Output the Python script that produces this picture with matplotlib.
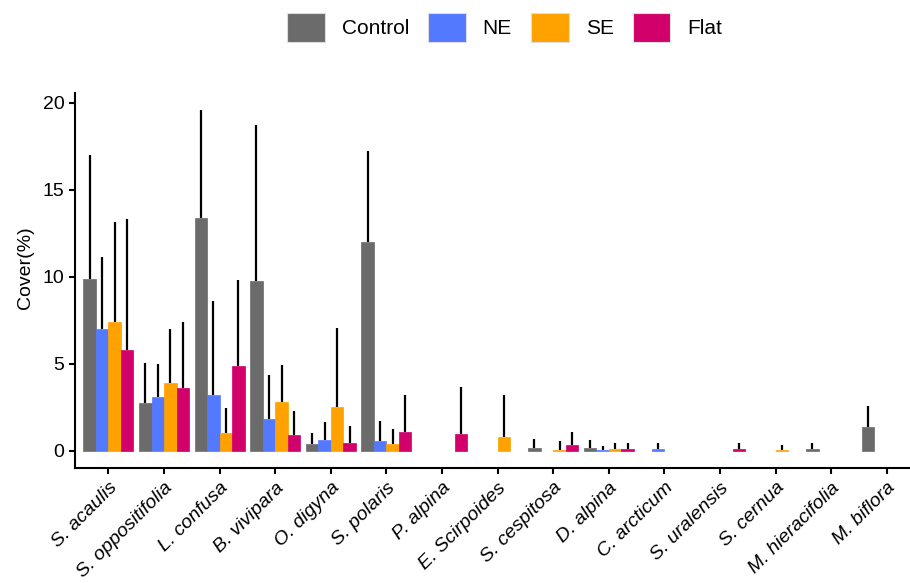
import numpy as np
import matplotlib
matplotlib.use('Agg')
import matplotlib.pyplot as plt
from matplotlib.patches import Patch

plt.rcParams['font.family'] = ['Liberation Sans', 'DejaVu Sans']

nan = np.nan

species = ['S. acaulis', 'S. oppositifolia', 'L. confusa', 'B. vivipara',
           'O. digyna', 'S. polaris', 'P. alpina', 'E. Scirpoides',
           'S. cespitosa', 'D. alpina', 'C. arcticum', 'S. uralensis',
           'S. cernua', 'M. hieracifolia', 'M. biflora']

groups = ['Control', 'NE', 'SE', 'Flat']
colors = ['#6b6b6b', '#5279ff', '#ffa200', '#d1006b']

control_mean = [9.89, 2.74, 13.38, 9.77, 0.39, 12.0, nan, nan, 0.18, 0.17, nan, nan, nan, 0.07, 1.37]
control_sd = [7.10, 2.31, 6.19, 8.94, 0.65, 5.24, nan, nan, 0.48, 0.46, nan, nan, nan, 0.35, 1.18]

ne_mean = [7.02, 3.07, 3.18, 1.82, 0.62, 0.58, nan, nan, nan, 0.05, 0.07, nan, nan, nan, nan]
ne_sd = [4.14, 1.93, 5.44, 2.53, 1.05, 1.15, nan, nan, nan, 0.24, 0.35, nan, nan, nan, nan]

se_mean = [7.42, 3.91, 1.0, 2.78, 2.53, 0.37, nan, 0.79, 0.06, 0.1, nan, nan, 0.05, nan, nan]
se_sd = [5.75, 3.09, 1.44, 2.12, 4.53, 0.88, nan, 2.41, 0.50, 0.34, nan, nan, 0.25, nan, nan]

flat_mean = [5.78, 3.62, 4.84, 0.89, 0.43, 1.1, 0.93, nan, 0.30, 0.1, nan, 0.07, nan, nan, nan]
flat_sd = [7.52, 3.76, 4.95, 1.41, 0.99, 2.12, 2.75, nan, 0.75, 0.34, nan, 0.35, nan, nan, nan]

means = [control_mean, ne_mean, se_mean, flat_mean]
sds = [control_sd, ne_sd, se_sd, flat_sd]

W, H = 910, 583
fig = plt.figure(figsize=(W / 100, H / 100), dpi=100)
# axes box in pixels: left 75.1, right 920.2, top 93.3, bottom 467.7
ax = fig.add_axes([75.1 / W, 1 - 467.7 / H, (920.2 - 75.1) / W, (467.7 - 93.3) / H])

x = np.arange(1, len(species) + 1)
width = 0.225
offsets = [-1.5 * width, -0.5 * width, 0.5 * width, 1.5 * width]

for m, s, off, c in zip(means, sds, offsets, colors):
    m = np.array(m)
    s = np.array(s)
    ok = ~np.isnan(m)
    ax.bar(x[ok] + off, m[ok], width=width, color=c, edgecolor=c,
           linewidth=0.5, zorder=2)
    ax.vlines(x[ok] + off, m[ok], m[ok] + s[ok], color='black', lw=1.6, zorder=3)

ax.set_xlim(0.4, 15.6)
ax.set_ylim(-0.98, 20.55)
ax.set_yticks([0, 5, 10, 15, 20])
ax.set_xticks(x)
ax.set_xticklabels(species, rotation=45, ha='right', va='top',
                   rotation_mode='anchor', style='italic')

for sp in ['top', 'right']:
    ax.spines[sp].set_visible(False)
for sp in ['left', 'bottom']:
    ax.spines[sp].set_linewidth(1.5)
ax.tick_params(axis='both', width=1.5, length=4.3, labelsize=14, colors='black')
ax.tick_params(axis='y', pad=3.5)
ax.tick_params(axis='x', pad=4)

ax.set_ylabel('Cover(%)', fontsize=14)
ax.yaxis.set_label_coords((34 - 75.1) / (920.2 - 75.1), 0.535)

handles = [Patch(facecolor=c, edgecolor='#dddddd', lw=0.8) for c in colors]
fig.legend(handles, groups, loc='center', bbox_to_anchor=(504.5 / W, 1 - 27.5 / H),
           ncol=4, frameon=False, fontsize=15, handlelength=1.82, handleheight=1.82,
           handletextpad=0.82, columnspacing=0.9, borderaxespad=0)

fig.savefig('out.png', dpi=100)
